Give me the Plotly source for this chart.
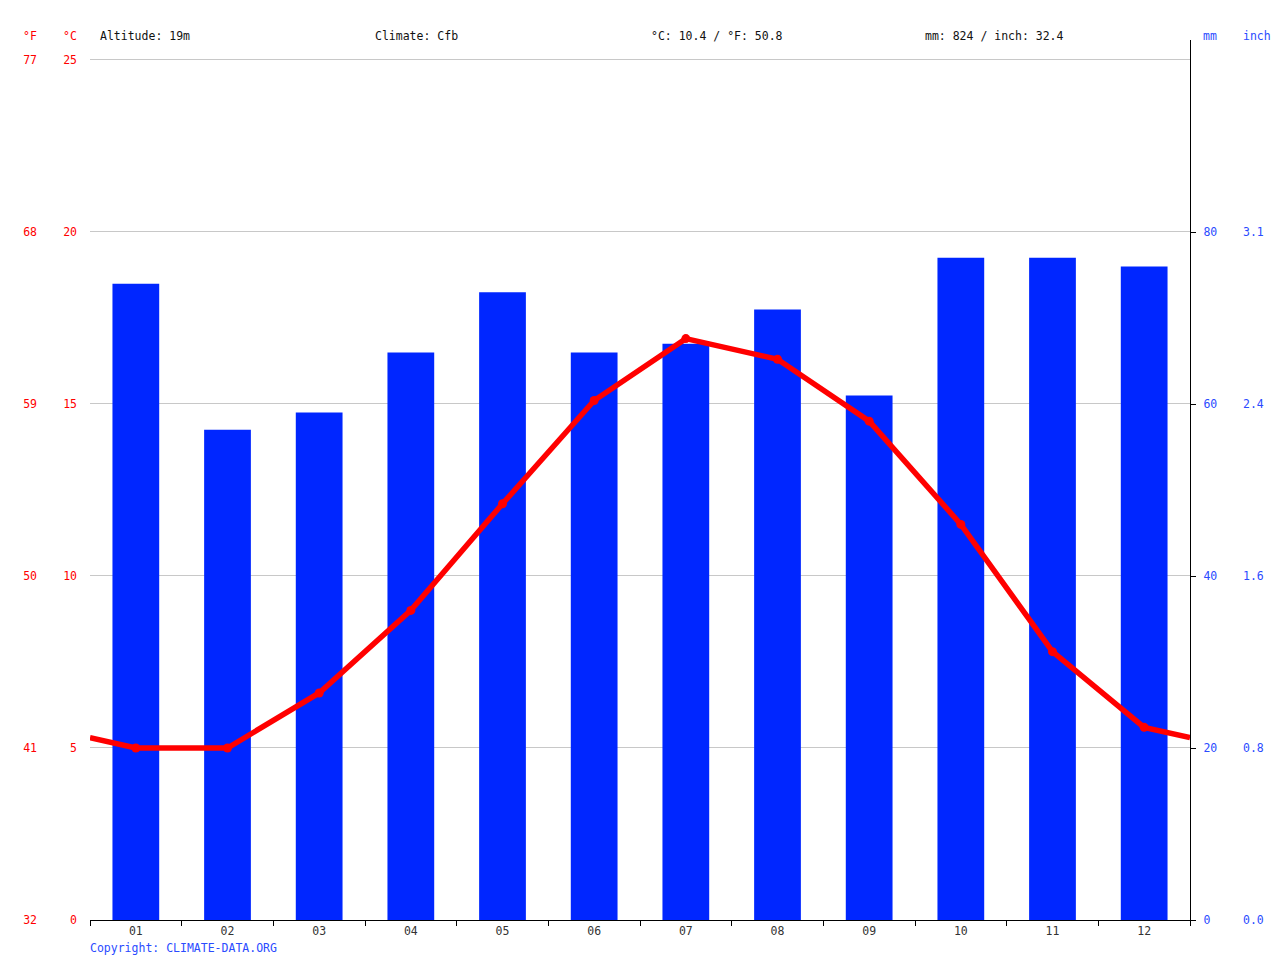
import plotly.graph_objects as go

# climate data
months = ["01", "02", "03", "04", "05", "06", "07", "08", "09", "10", "11", "12"]
precip_mm = [74, 57, 59, 66, 73, 66, 67, 71, 61, 77, 77, 76]
temp_c = [5.0, 5.0, 6.6, 9.0, 12.1, 15.1, 16.9, 16.3, 14.5, 11.5, 7.8, 5.6]

header_left = "Altitude: 19m"
header_climate = "Climate: Cfb"
header_temp = "°C: 10.4 / °F: 50.8"
header_precip = "mm: 824 / inch: 32.4"

W, H = 1280, 960
RED = "#ff0000"
BAR = "#0026ff"
BLUE_TXT = "#2a4bff"
FONT = "DejaVu Sans Mono"


def px(x):
    return x / W


def py(y):
    return (H - y) / H


pos = list(range(1, 13))
# line wraps round the year at both plot edges
edge = (temp_c[0] + temp_c[-1]) / 2
line_x = [0.5] + pos + [12.5]
line_y = [edge] + temp_c + [edge]

mm_top = 102.33
c_top = 25.58

fig = go.Figure()
fig.add_trace(go.Bar(x=pos, y=precip_mm, width=0.51, marker_color=BAR,
                     marker_line_width=0, yaxis="y", hoverinfo="y"))
fig.add_trace(go.Scatter(x=line_x, y=line_y, mode="lines", yaxis="y2",
                         line=dict(color=RED, width=5.5), hoverinfo="skip"))
fig.add_trace(go.Scatter(x=pos, y=temp_c, mode="markers", yaxis="y2",
                         marker=dict(color=RED, size=9)))
# dummy traces so the extra axes get drawn
fig.add_trace(go.Scatter(x=[None], y=[None], yaxis="y3", showlegend=False))
fig.add_trace(go.Scatter(x=[None], y=[None], yaxis="y4", showlegend=False))

fig.update_layout(
    width=W, height=H, autosize=False,
    margin=dict(l=0, r=0, t=0, b=0),
    paper_bgcolor="white", plot_bgcolor="white",
    showlegend=False,
    font=dict(family=FONT, size=11.5, color="#222"),
    xaxis=dict(domain=[px(90), px(1190)], range=[0.5, 12.5],
               tickvals=pos, ticktext=months, ticks="",
               showline=True, linecolor="black", linewidth=1.2,
               showgrid=False, zeroline=False, automargin=False,
               tickfont=dict(color="#333"),
               minor=dict(ticks="outside", tick0=0.5, dtick=1, ticklen=5,
                          tickcolor="black", showgrid=False)),
    yaxis=dict(domain=[py(920), py(40)], range=[0, mm_top], side="right",
               anchor="x", tickvals=[0, 20, 40, 60, 80],
               ticks="outside", ticklen=5, tickcolor="black",
               showline=True, linecolor="black", linewidth=1.2,
               showgrid=False, zeroline=False, automargin=False,
               ticklabelstandoff=5, tickfont=dict(color=BLUE_TXT)),
    yaxis2=dict(overlaying="y", range=[0, c_top], side="left", anchor="x",
                tickvals=[0, 5, 10, 15, 20, 25], ticks="",
                showline=False, showgrid=True, gridcolor="#c8c8c8",
                gridwidth=1, zeroline=False, automargin=False,
                ticklabelstandoff=12, tickfont=dict(color=RED)),
    yaxis3=dict(overlaying="y", range=[32, c_top * 1.8 + 32], side="left",
                anchor="free", position=px(40),
                tickvals=[c * 1.8 + 32 for c in [0, 5, 10, 15, 20, 25]],
                ticktext=[str(round(c * 1.8 + 32)) for c in [0, 5, 10, 15, 20, 25]],
                ticks="", showline=False, showgrid=False, zeroline=False,
                automargin=False, ticklabelstandoff=3,
                tickfont=dict(color=RED)),
    yaxis4=dict(overlaying="y", range=[0, mm_top / 25.4], side="right",
                anchor="free", position=px(1242),
                tickvals=[m / 25.4 for m in [0, 20, 40, 60, 80]],
                ticktext=["%.1f" % (m / 25.4) for m in [0, 20, 40, 60, 80]],
                ticks="", showline=False, showgrid=False, zeroline=False,
                automargin=False, ticklabelstandoff=0,
                tickfont=dict(color=BLUE_TXT)),
)

notes = [
    ("°F", 30, "center", RED),
    ("°C", 70, "center", RED),
    (header_left, 98, "left", "#111"),
    (header_climate, 373, "left", "#111"),
    (header_temp, 649, "left", "#111"),
    (header_precip, 923, "left", "#111"),
    ("mm", 1210, "center", BLUE_TXT),
    ("inch", 1257, "center", BLUE_TXT),
]
for txt, x, anc, col in notes:
    fig.add_annotation(text=txt, x=px(x), y=py(36), xref="paper", yref="paper",
                       xanchor=anc, yanchor="middle", showarrow=False,
                       font=dict(color=col, size=11.5))

fig.add_annotation(text="Copyright: CLIMATE-DATA.ORG", x=px(88), y=py(948),
                   xref="paper", yref="paper", xanchor="left", yanchor="middle",
                   showarrow=False, font=dict(color=BLUE_TXT, size=11.5))

# page body margin would push the 1280x960 figure off the window
fig.write_html("out.html", config={"displayModeBar": False},
               post_script="document.body.style.margin='0';"
                           "document.body.style.overflow='hidden';")
